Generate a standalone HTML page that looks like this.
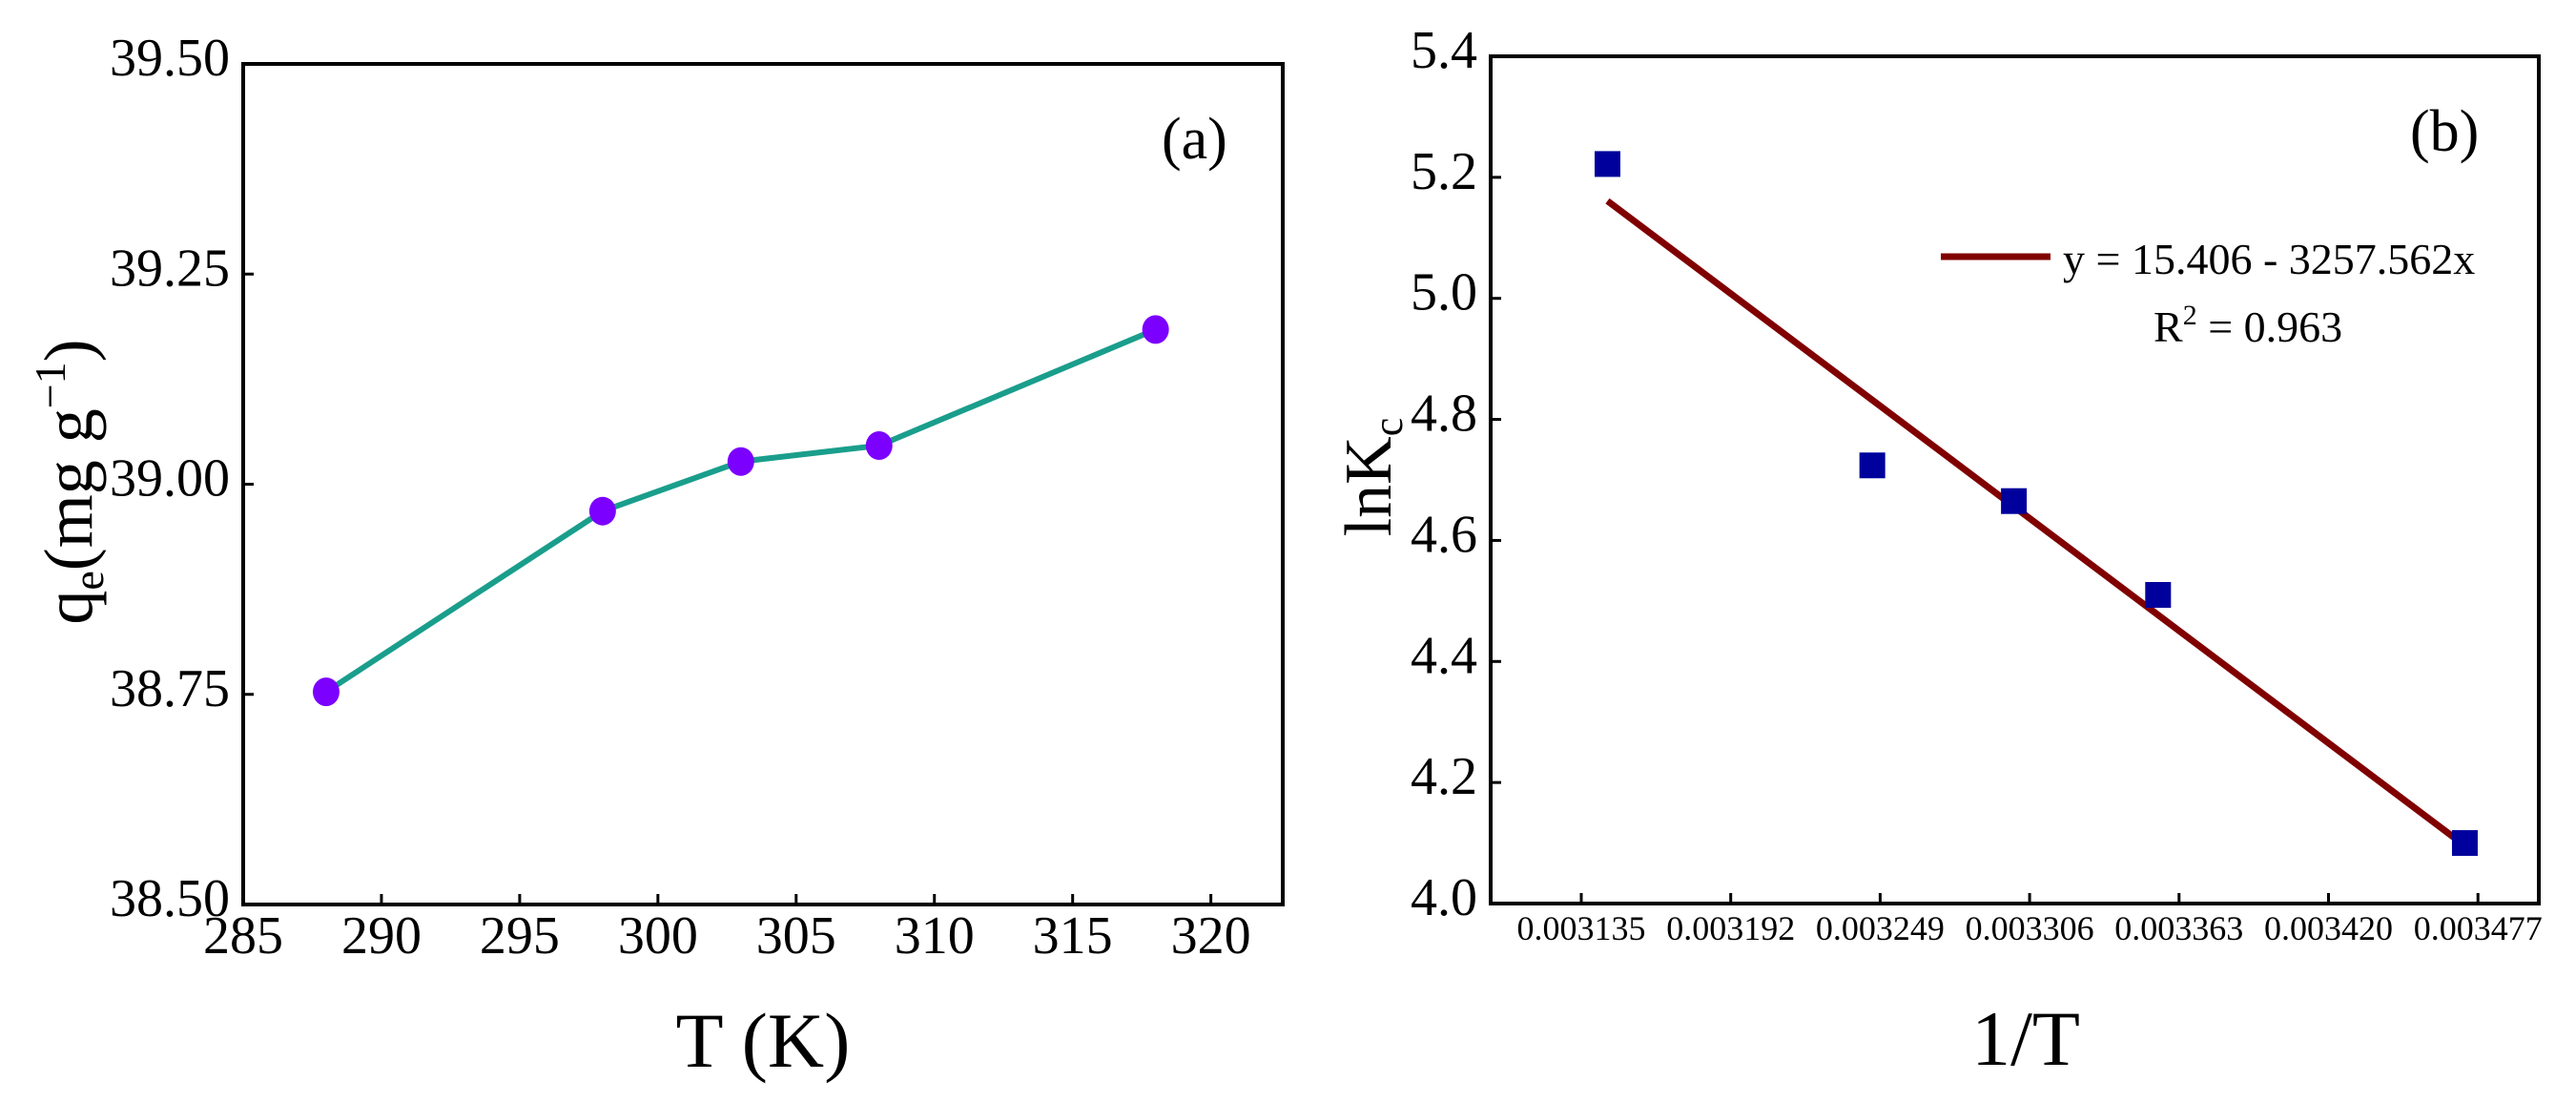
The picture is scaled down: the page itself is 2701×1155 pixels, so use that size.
<!DOCTYPE html>
<html><head><meta charset="utf-8">
<style>
html,body{margin:0;padding:0;background:#fff;}
svg{display:block;}
svg text{font-family:"Liberation Serif","DejaVu Serif",serif;}
</style></head>
<body>
<svg id="fig" width="2701" height="1155" viewBox="0 0 2701 1155" xmlns="http://www.w3.org/2000/svg" font-family="Liberation Serif, DejaVu Serif, serif">
<g id="pa"></g>
<g id="pb"></g>
</svg>
<script>
// Panel (a) data
const aTemps = [288, 298, 303, 308, 318];
const aQe = [38.753, 38.968, 39.027, 39.046, 39.184];
const aXTicks = [285, 290, 295, 300, 305, 310, 315, 320];
const aYTicks = [38.50, 38.75, 39.00, 39.25, 39.50];
// Panel (b) data
const bInvT = [0.003145, 0.003246, 0.003300, 0.003355, 0.003472];
const bLnKc = [5.222, 4.724, 4.665, 4.510, 4.100];
const bXTicks = ["0.003135","0.003192","0.003249","0.003306","0.003363","0.003420","0.003477"];
const bYTicks = [4.0, 4.2, 4.4, 4.6, 4.8, 5.0, 5.2, 5.4];
const fitA = 15.406, fitB = -3257.562;

const NS = "http://www.w3.org/2000/svg";
const SERIF = '"Liberation Serif","DejaVu Serif",serif';
function mk(parent, tag, attrs, text){
  const e = document.createElementNS(NS, tag);
  for (const k in attrs) e.setAttribute(k, attrs[k]);
  if (tag === 'text') e.style.fontFamily = SERIF;
  if (text !== undefined) e.textContent = text;
  parent.appendChild(e);
  return e;
}

// ---------- Panel A ----------
(function(){
  const g = document.getElementById('pa');
  const L=255,R=1345,T=67,B=948;
  const x0=285, x1=322.6, y0=38.5, y1=39.5;
  const sx = v => L + (v-x0)/(x1-x0)*(R-L);
  const sy = v => B - (v-y0)/(y1-y0)*(B-T);
  const frame = mk(g,'rect',{x:L,y:T,width:R-L,height:B-T,fill:'none',stroke:'#000','stroke-width':4});
  
  
  aXTicks.forEach(v=>{
    const t = mk(g,'line',{x1:sx(v),x2:sx(v),y1:B,y2:B-11,stroke:'#000','stroke-width':3});
    
    
    const l = mk(g,'text',{x:sx(v),y:999,'text-anchor':'middle','font-size':56},String(v));
    
    
  });
  aYTicks.forEach(v=>{
    const t = mk(g,'line',{x1:L,x2:L+11,y1:sy(v),y2:sy(v),stroke:'#000','stroke-width':3});
    
    
    const l = mk(g,'text',{x:241,y:sy(v)+12,'text-anchor':'end','font-size':56},v.toFixed(2));
    
    
  });
  const pts = aTemps.map((t,i)=>sx(t)+','+sy(aQe[i])).join(' ');
  const line = mk(g,'polyline',{points:pts,fill:'none',stroke:'#1a9e8c','stroke-width':6});
  
  
  aTemps.forEach((t,i)=>{
    const c = mk(g,'ellipse',{cx:sx(t),cy:sy(aQe[i]),rx:14,ry:15,fill:'#7b00ff'});
    
    
  });
  const pl = mk(g,'text',{x:1218,y:166,'font-size':62},'(a)');
  
  
  const xt = mk(g,'text',{x:800,y:1118,'text-anchor':'middle','font-size':82},'T (K)');
  
  
  const yt = mk(g,'text',{transform:'translate(96,505) rotate(-90)','text-anchor':'middle','font-size':72});
  
  
  yt.innerHTML = 'q<tspan font-size="46" dy="12">e</tspan><tspan dy="-12">(mg g</tspan><tspan font-size="46" dy="-28">−1</tspan><tspan dy="28">)</tspan>';
})();

// ---------- Panel B ----------
(function(){
  const g = document.getElementById('pb');
  const L=1563,R=2662,T=59,B=947;
  const t0=0.003135, dt=0.000057, p0=1658, pdx=156.7;
  const sx = v => p0 + (v-t0)/dt*pdx;
  const y0=4.0, y1=5.4;
  const sy = v => B - (v-y0)/(y1-y0)*(B-T);
  const frame = mk(g,'rect',{x:L,y:T,width:R-L,height:B-T,fill:'none',stroke:'#000','stroke-width':4});
  
  
  bXTicks.forEach(s=>{
    const v = parseFloat(s);
    const t = mk(g,'line',{x1:sx(v),x2:sx(v),y1:B,y2:B-11,stroke:'#000','stroke-width':3});
    
    
    const l = mk(g,'text',{x:sx(v),y:985,'text-anchor':'middle','font-size':36},s);
    
    
  });
  bYTicks.forEach(v=>{
    const t = mk(g,'line',{x1:L,x2:L+11,y1:sy(v),y2:sy(v),stroke:'#000','stroke-width':3});
    
    
    const l = mk(g,'text',{x:1549,y:sy(v)+12,'text-anchor':'end','font-size':56},v.toFixed(1));
    
    
  });
  const xa = bInvT[0], xb = bInvT[bInvT.length-1];
  const fit = mk(g,'line',{x1:sx(xa),y1:sy(fitA+fitB*xa),x2:sx(xb),y2:sy(fitA+fitB*xb),stroke:'#800000','stroke-width':7});
  
  
  bInvT.forEach((v,i)=>{
    const s = mk(g,'rect',{x:sx(v)-13.5,y:sy(bLnKc[i])-13.5,width:27,height:27,fill:'#00009c'});
    
    
  });
  const lg = mk(g,'line',{x1:2035,x2:2150,y1:269,y2:269,stroke:'#800000','stroke-width':7});
  
  
  const eq = mk(g,'text',{x:2163,y:287,'font-size':46},'y = 15.406 - 3257.562x');
  
  
  const r2 = mk(g,'text',{x:2258,y:358,'font-size':46});
  
  
  r2.innerHTML = 'R<tspan font-size="30" dy="-18">2</tspan><tspan dy="18"> = 0.963</tspan>';
  const pl = mk(g,'text',{x:2527,y:158,'font-size':62},'(b)');
  
  
  const xt = mk(g,'text',{x:2124,y:1116,'text-anchor':'middle','font-size':82},'1/T');
  
  
  const yt = mk(g,'text',{transform:'translate(1458,500) rotate(-90)','text-anchor':'middle','font-size':70});
  
  
  yt.innerHTML = 'lnK<tspan font-size="44" dy="12">c</tspan>';
})();
</script>
</body></html>
